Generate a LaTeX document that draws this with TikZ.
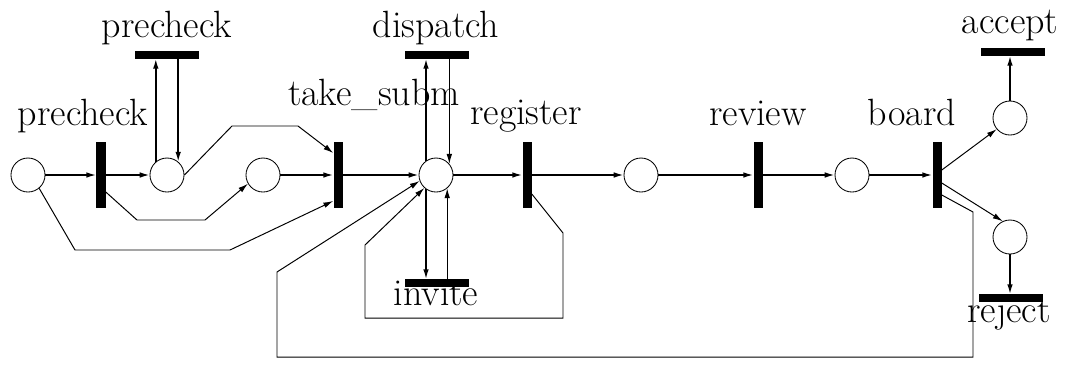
\documentclass[tikz,border=0pt]{standalone}
\usepackage{tikz}
\usetikzlibrary{arrows.meta, positioning, calc}

\begin{document}
\begin{tikzpicture}[x=0.025cm, y=-0.025cm,
        place/.style={draw, circle, minimum size=0.85cm, inner sep=0pt, line width=0.6pt},
        vbar/.style={fill=black, minimum width=0.225cm, minimum height=1.625cm, inner sep=0pt},
        hbar/.style={fill=black, minimum width=1.6cm, minimum height=0.18cm, inner sep=0pt},
        lbl/.style={font=\fontsize{27}{32}\selectfont, anchor=base},
        arr/.style={-{Latex[length=7pt, width=4pt]}, line width=1.1pt},
        thinarr/.style={-{Latex[length=7pt, width=4pt]}, line width=0.7pt}
      ]
        \useasboundingbox (0,0) rectangle (1068,364);

        \node[place] (p1) at (28,175) {};
        \node[vbar] (t1) at (101,175) {};
        \node[place] (p2) at (167,175) {};
        \node[hbar] (pc) at (167,55) {};
        \node[place] (p3) at (263,175) {};
        \node[vbar] (t2) at (338,175) {};
        \node[place] (p4) at (436,175) {};
        \node[hbar] (dp) at (437,55) {};
        \node[hbar] (iv) at (437,283) {};
        \node[vbar] (t3) at (527,175) {};
        \node[place] (p5) at (641,175) {};
        \node[vbar] (rv) at (758,175) {};
        \node[place] (p6) at (852,175) {};
        \node[vbar] (bd) at (937,175) {};
        \node[place] (pa) at (1010,118) {};
        \node[hbar] (ac) at (1013,52) {};
        \node[place] (pr) at (1010,237) {};
        \node[hbar] (rj) at (1011,298) {};

        \node[lbl] (l1) at (83,125) {precheck};
        \node[lbl] (l2) at (167,37) {precheck};
        \node[lbl] (l3) at (374,105) {take\_subm};
        \node[lbl] (l4) at (436,37) {dispatch};
        \node[lbl] (l5) at (526,124) {register};
        \node[lbl] (l6) at (436,305) {invite};
        \node[lbl] (l7) at (758,125) {review};
        \node[lbl] (l8) at (912,125) {board};
        \node[lbl] (l9) at (1010,33) {accept};
        \node[lbl] (l10) at (1009,322) {reject};

        \draw[arr] (p1) -- (t1);
        \draw[arr] (t1) -- (p2);
        \draw[arr] (p2.130) -- (p2.130 |- pc.south);
        \draw[arr] (pc.south -| p2.50) -- (p2.50);
        \draw[thinarr] (p2.east) -- (232,126) -- (298,126) -- ($(t2.west)+(0,-22)$);
        \draw[thinarr] ($(t1.east)+(0,17)$) -- (137,220) -- (205,220) -- (p3.210);
        \draw[thinarr] (p1.-50) -- (75,250) -- (230,250) -- ($(t2.west)+(0,26)$);
        \draw[arr] (p3) -- (t2);
        \draw[arr] (t2) -- (p4);
        \draw[arr] (p4.125) -- (p4.125 |- dp.south);
        \draw[thinarr] (dp.south -| p4.40) -- (p4.40);
        \draw[arr] (p4.235) -- (p4.235 |- iv.north);
        \draw[thinarr] (iv.north -| p4.-50) -- (p4.-50);
        \draw[arr] (p4) -- (t3);
        \draw[thinarr] ($(t3.east)+(0,19)$) -- (563,233) -- (563,318) -- (365,318) -- (365,245) -- (p4.228);
        \draw[arr] (t3) -- (p5);
        \draw[arr] (p5) -- (rv);
        \draw[arr] (rv) -- (p6);
        \draw[arr] (p6) -- (bd);
        \draw[thinarr] ($(bd.east)+(0,-5)$) -- (pa.220);
        \draw[thinarr] ($(bd.east)+(0,8)$) -- (pr.115);
        \draw[thinarr] ($(bd.east)+(0,20)$) -- (973,212) -- (973,357) -- (277,357) -- (277,272) -- (p4.200);
        \draw[arr] (pa) -- (pa |- ac.south);
        \draw[arr] (pr) -- (pr |- rj.north);
      \end{tikzpicture}
\end{document}
